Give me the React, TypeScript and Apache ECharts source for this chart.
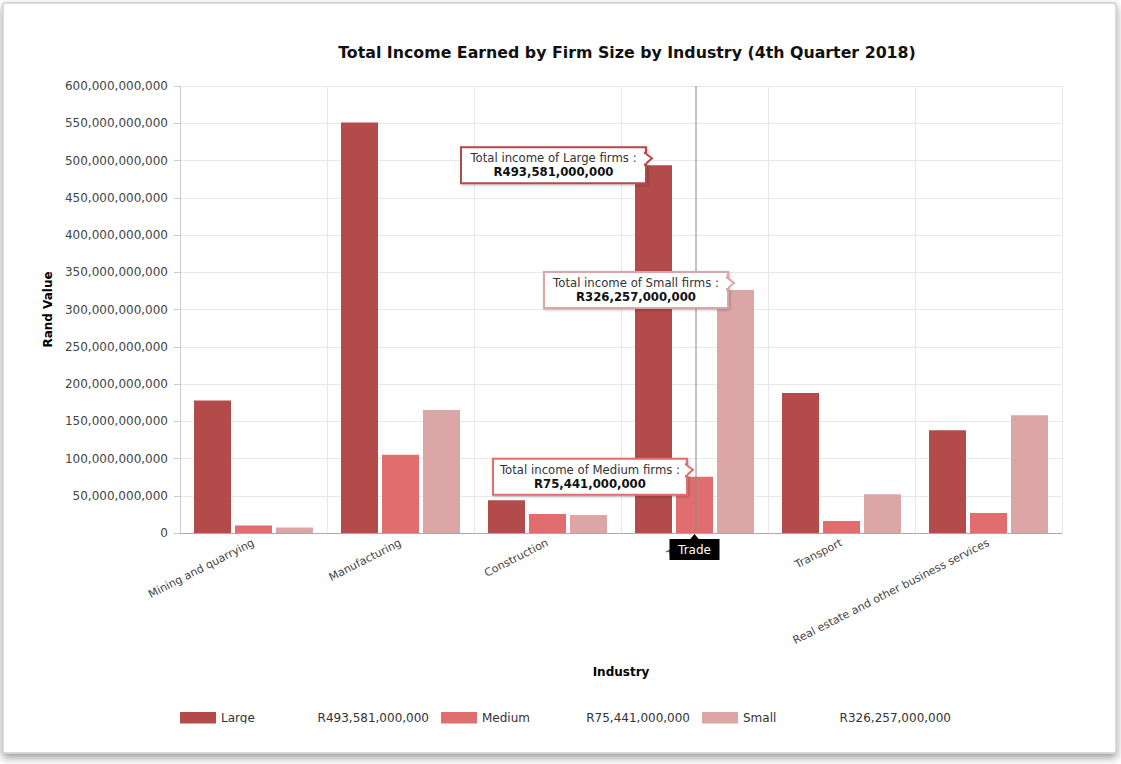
import React, { useEffect, useRef } from 'react';
import * as echarts from 'echarts';

const industries = [
  'Mining and quarrying',
  'Manufacturing',
  'Construction',
  'Trade',
  'Transport',
  'Real estate and other business services',
];
const seriesNames = ['Large', 'Medium', 'Small'];
const large = [178e9, 551e9, 44e9, 493581e6, 188e9, 138e9];
const medium = [10e9, 105e9, 25.5e9, 75441e6, 16e9, 27e9];
const small = [7.5e9, 165e9, 24e9, 326257e6, 52e9, 158e9];
const yMin = 0;
const yMax = 600e9;
const yInterval = 50e9;
const highlightIndex = 3; // Trade (hovered)

const colors = ['#b34b4b', '#e06e6e', '#dca6a6'];
const FONT = 'DejaVu Sans, Verdana, sans-serif';

const fmtNum = (v: number) => Math.round(v).toLocaleString('en-US');
const fmtR = (v: number) => 'R' + fmtNum(v);

export default function App() {
  const ref = useRef<HTMLDivElement>(null);
  useEffect(() => {
    if (!ref.current) return;
    const chart = echarts.init(ref.current, null, { renderer: 'svg' });
    const allSeries = [large, medium, small];
    const legendValues = allSeries.map((s) => s[highlightIndex]);
    const barW = 37;
    const barGapPx = 4;

    chart.setOption({
      animation: false,
      backgroundColor: '#ffffff',
      title: {
        text: 'Total Income Earned by Firm Size by Industry (4th Quarter 2018)',
        left: 622,
        textAlign: 'center',
        top: 39,
        textStyle: { fontFamily: FONT, fontSize: 15.8, fontWeight: 'bold', color: '#111' },
      },
      grid: { left: 180, right: 59, top: 86, bottom: 231, containLabel: false },
      legend: {
        left: 180,
        top: 712,
        padding: 0,
        itemWidth: 36,
        itemHeight: 12,
        itemGap: 12,
        icon: 'rect',
        data: seriesNames,
        formatter: (name: string) => {
          const i = seriesNames.indexOf(name);
          return `{n|${name}}{v|${fmtR(legendValues[i])}}`;
        },
        textStyle: {
          fontFamily: FONT,
          fontSize: 12,
          color: '#333',
          rich: {
            n: { width: 98, align: 'left', fontFamily: FONT, fontSize: 12, color: '#333' },
            v: { width: 110, align: 'right', fontFamily: FONT, fontSize: 12, color: '#333' },
          },
        },
      },
      xAxis: {
        type: 'category',
        data: industries,
        name: 'Industry',
        nameLocation: 'middle',
        nameGap: 133,
        nameTextStyle: { fontFamily: FONT, fontSize: 12, fontWeight: 'bold', color: '#000' },
        axisLine: { lineStyle: { color: '#aaa' } },
        axisTick: { alignWithLabel: true, length: 6, lineStyle: { color: '#aaa' } },
        axisLabel: { rotate: 27, interval: 0, fontFamily: FONT, fontSize: 11, color: '#444', margin: 9 },
        splitLine: { show: true, lineStyle: { color: '#e8e8e8' } },
      },
      yAxis: {
        type: 'value',
        min: yMin,
        max: yMax,
        interval: yInterval,
        name: 'Rand Value',
        nameLocation: 'middle',
        nameGap: 114,
        nameTextStyle: { fontFamily: FONT, fontSize: 12, fontWeight: 'bold', color: '#000' },
        axisLine: { show: true, lineStyle: { color: '#ccc' } },
        axisTick: { show: true, length: 6, lineStyle: { color: '#ccc' } },
        axisLabel: { fontFamily: FONT, fontSize: 12, color: '#444', margin: 12, formatter: (v: number) => fmtNum(v) },
        splitLine: { show: true, lineStyle: { color: '#e8e8e8' } },
      },
      series: allSeries.map((d, i) => ({
        name: seriesNames[i],
        type: 'bar',
        data: d,
        barWidth: barW,
        barGap: ((barGapPx / barW) * 100).toFixed(1) + '%',
        itemStyle: { color: colors[i] },
      })),
    });

    const cx = chart.convertToPixel({ xAxisIndex: 0 }, highlightIndex) as number;
    const yOf = (v: number) => chart.convertToPixel({ yAxisIndex: 0 }, v) as number;
    const yTop = yOf(yMax);
    const yBot = yOf(yMin);
    const barLeft = (s: number) => cx + (s - 1) * (barW + barGapPx) - barW / 2;

    const tips = [
      { s: 0, w: 185 },
      { s: 2, w: 184 },
      { s: 1, w: 194 },
    ];
    const tipEls: any[] = [];
    tips.forEach((t, k) => {
      const val = allSeries[t.s][highlightIndex];
      const right = barLeft(t.s) + 11;
      const cy = yOf(val);
      const h = 36;
      const x0 = right - t.w;
      const y0 = cy - h / 2;
      const z = 50 + k * 5;
      tipEls.push(
        {
          type: 'rect',
          z,
          shape: { x: x0, y: y0, width: t.w, height: h },
          style: { fill: '#fff', stroke: colors[t.s], lineWidth: 2, shadowBlur: 3, shadowColor: 'rgba(0,0,0,0.25)', shadowOffsetX: 1, shadowOffsetY: 1 },
        },
        {
          type: 'polygon',
          z: z + 1,
          shape: { points: [[right - 1, y0 + 6], [right + 6, y0 + 11], [right - 1, y0 + 17]] },
          style: { fill: '#fff', stroke: colors[t.s], lineWidth: 2 },
        },
        {
          type: 'rect',
          z: z + 2,
          shape: { x: right - 3, y: y0 + 7, width: 3, height: 9 },
          style: { fill: '#fff' },
        },
        {
          type: 'text',
          z: z + 3,
          style: {
            x: x0 + t.w / 2,
            y: y0 + 11,
            text: `Total income of ${seriesNames[t.s]} firms :`,
            align: 'center',
            verticalAlign: 'middle',
            fontFamily: FONT,
            fontSize: 11.7,
            fill: '#333',
          },
        },
        {
          type: 'text',
          z: z + 3,
          style: {
            x: x0 + t.w / 2,
            y: y0 + 25,
            text: fmtR(val),
            align: 'center',
            verticalAlign: 'middle',
            fontFamily: FONT,
            fontSize: 11.7,
            fontWeight: 'bold',
            fill: '#111',
          },
        }
      );
    });

    chart.setOption({
      graphic: [
        {
          type: 'rect',
          z: -10,
          silent: true,
          shape: { x: 3, y: 3, width: 1113, height: 750, r: 2 },
          style: { fill: '#fff', stroke: '#cfcfcf', lineWidth: 1.5, shadowBlur: 8, shadowOffsetY: 4, shadowColor: 'rgba(0,0,0,0.4)' },
        },
        {
          type: 'line',
          z: 10,
          shape: { x1: cx + 1.5, y1: yTop, x2: cx + 1.5, y2: yBot },
          style: { stroke: '#888', lineWidth: 1 },
        },
        ...tipEls,
        { type: 'polygon', z: 70, shape: { points: [[cx - 5, yBot + 7], [cx, yBot + 1], [cx + 5, yBot + 7]] }, style: { fill: '#000' } },
        { type: 'rect', z: 70, shape: { x: cx - 25, y: yBot + 6, width: 50, height: 21 }, style: { fill: '#000' } },
        {
          type: 'text',
          z: 71,
          style: { x: cx, y: yBot + 16.5, text: industries[highlightIndex], align: 'center', verticalAlign: 'middle', fontFamily: FONT, fontSize: 12, fill: '#fff' },
        },
        {
          type: 'rect',
          z: 100,
          silent: true,
          shape: { x: 150, y: 723.5, width: 860, height: 27 },
          style: { fill: '#fff' },
        },
      ],
    });

    return () => chart.dispose();
  }, []);
  return <div ref={ref} style={{ position: 'absolute', left: 0, top: 0, width: 1121, height: 764 }} />;
}
